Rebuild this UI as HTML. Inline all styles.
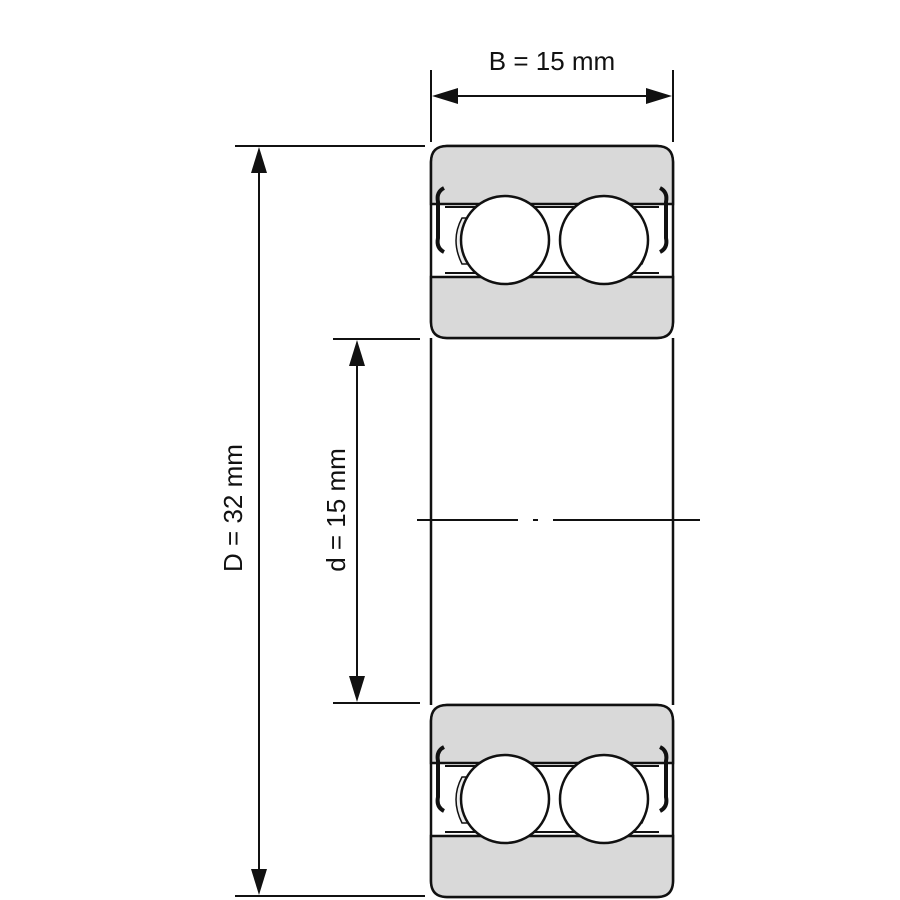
<!DOCTYPE html><html><head><style>body{margin:0;background:#fff}svg{display:block}text{font-family:"Liberation Sans",sans-serif;font-size:26px;fill:#111}</style></head><body>
<svg width="900" height="900" viewBox="0 0 900 900" xmlns="http://www.w3.org/2000/svg">
<defs>
<g id="br">
<rect x="431" y="0" width="242" height="192" rx="16" fill="#fff" stroke="#111" stroke-width="2.5"/>
<path d="M431,58 V16 Q431,0 447,0 H657 Q673,0 673,16 V58z" fill="#d9d9d9" stroke="#111" stroke-width="2.5"/>
<path d="M431,131 V176 Q431,192 447,192 H657 Q673,192 673,176 V131z" fill="#d9d9d9" stroke="#111" stroke-width="2.5"/>
<line x1="445" y1="61" x2="659" y2="61" stroke="#111" stroke-width="2"/>
<line x1="445" y1="127" x2="659" y2="127" stroke="#111" stroke-width="2"/>
<path d="M444,42 q-8,4 -6,14 v36 q-2,10 6,14" fill="none" stroke="#111" stroke-width="4"/>
<path d="M660,42 q8,4 6,14 v36 q2,10 -6,14" fill="none" stroke="#111" stroke-width="4"/>
<path d="M462,72 q-12,22 0,46 h6 q-10,-23 0,-46z" fill="#eee" stroke="#111" stroke-width="1.5"/>
<path d="M642,72 q12,22 0,46 h-6 q10,-23 0,-46z" fill="#eee" stroke="#111" stroke-width="1.5"/>
<circle cx="505" cy="94" r="44" fill="#fff" stroke="#111" stroke-width="2.5"/>
<circle cx="604" cy="94" r="44" fill="#fff" stroke="#111" stroke-width="2.5"/>
</g></defs>
<g stroke="#111" stroke-width="2">
<line x1="431" y1="70" x2="431" y2="142"/>
<line x1="673" y1="70" x2="673" y2="142"/>
<line x1="440" y1="96" x2="664" y2="96"/>
<line x1="235" y1="146" x2="425" y2="146"/>
<line x1="235" y1="896" x2="425" y2="896"/>
<line x1="259" y1="160" x2="259" y2="882"/>
<line x1="333" y1="339" x2="420" y2="339"/>
<line x1="333" y1="703" x2="420" y2="703"/>
<line x1="357" y1="353" x2="357" y2="689"/>
</g>
<g fill="#111">
<polygon points="432,96 458,88 458,104"/>
<polygon points="672,96 646,88 646,104"/>
<polygon points="259,147 251,173 267,173"/>
<polygon points="259,895 251,869 267,869"/>
<polygon points="357,340 349,366 365,366"/>
<polygon points="357,702 349,676 365,676"/>
</g>
<text x="552" y="70" text-anchor="middle">B = 15 mm</text>
<text transform="translate(242,508) rotate(-90)" text-anchor="middle">D = 32 mm</text>
<text transform="translate(345,510) rotate(-90)" text-anchor="middle">d = 15 mm</text>
<line x1="431" y1="338" x2="431" y2="705" stroke="#111" stroke-width="2.5"/>
<line x1="673" y1="338" x2="673" y2="705" stroke="#111" stroke-width="2.5"/>
<use href="#br" y="146"/>
<use href="#br" y="705"/>
<path d="M417,520 H518 M533,520 H538 M553,520 H700" stroke="#111" stroke-width="2"/>
</svg></body></html>
